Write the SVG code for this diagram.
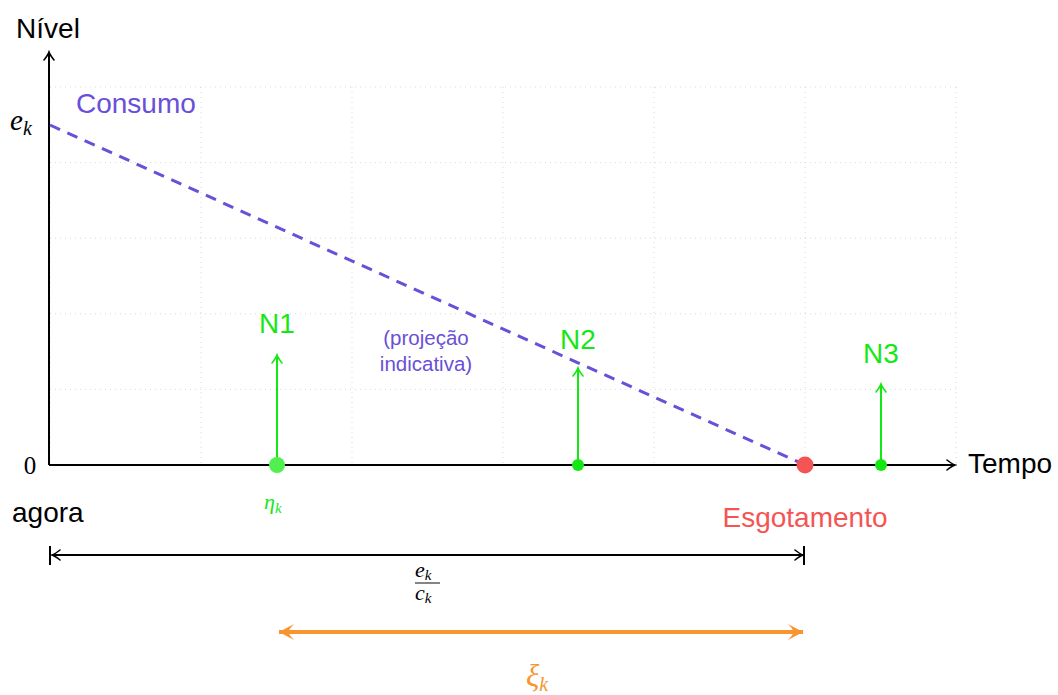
<svg xmlns="http://www.w3.org/2000/svg" width="1058" height="695" viewBox="0 0 1058 695">
<style>
.grid{stroke:#d9d9d9;stroke-width:1;stroke-dasharray:1 4;fill:none}
.axis{stroke:#000;stroke-width:2;fill:none}
.sans{font-family:"Liberation Sans",Arial,sans-serif;font-size:28px}
.serif{font-family:"Liberation Serif","Times New Roman",serif;font-style:italic}
.grn{fill:#14e814}
.gl{stroke:#14e814;stroke-width:2;fill:none}
</style>
<defs>
<marker id="ah" viewBox="-10 -6 12 12" markerWidth="12" markerHeight="12" refX="0" refY="0" orient="auto" markerUnits="userSpaceOnUse">
<path d="M-8,-5 Q-3,-1 0,0 Q-3,1 -8,5" fill="none" stroke="#000" stroke-width="1.6" stroke-linecap="round"/>
</marker>
<marker id="ahg" viewBox="-10 -6 12 12" markerWidth="12" markerHeight="12" refX="0" refY="0" orient="auto" markerUnits="userSpaceOnUse">
<path d="M-8,-5 Q-3,-1 0,0 Q-3,1 -8,5" fill="none" stroke="#14e814" stroke-width="1.6" stroke-linecap="round"/>
</marker>
<marker id="ahd" viewBox="-10 -6 12 12" markerWidth="12" markerHeight="12" refX="0" refY="0" orient="auto-start-reverse" markerUnits="userSpaceOnUse">
<path d="M-8,-5 Q-3,-1 0,0 Q-3,1 -8,5" fill="none" stroke="#000" stroke-width="1.6" stroke-linecap="round"/>
</marker>
<marker id="aho" viewBox="-16 -9 18 18" markerWidth="18" markerHeight="18" refX="0" refY="0" orient="auto-start-reverse" markerUnits="userSpaceOnUse">
<path d="M-15,-8 Q-9,-2 -10,0 Q-9,2 -15,8 L0,0 Z" fill="#f7952f"/>
</marker>
</defs>
<g id="grid">
<path class="grid" d="M50,87H956M50,162.6H956M50,238.2H956M50,313.8H956M50,389.4H956"/>
<path class="grid" d="M201,87V465M352,87V465M503,87V465M654,87V465M805,87V465M956,87V465M50,87V465"/>
</g>
<g id="axes">
<line class="axis" x1="49" y1="465" x2="49" y2="52" marker-end="url(#ah)"/>
<line class="axis" x1="49" y1="465" x2="955" y2="465" marker-end="url(#ah)"/>
<text class="sans" x="48" y="38" text-anchor="middle">Nível</text>
<text class="sans" x="968" y="473">Tempo</text>
<text class="serif" x="10" y="130" font-size="29">e<tspan font-size="20" dy="5">k</tspan></text>
<text x="30" y="474" font-size="25" text-anchor="middle" font-family="Liberation Serif,serif">0</text>
</g>
<g id="connectors">
<line x1="50" y1="125" x2="805" y2="465" stroke="#6a4fd8" stroke-width="3" stroke-dasharray="11 8"/>
<line class="gl" x1="277" y1="465" x2="277" y2="355" marker-end="url(#ahg)"/>
<line class="gl" x1="578" y1="465" x2="578" y2="368" marker-end="url(#ahg)"/>
<line class="gl" x1="881" y1="465" x2="881" y2="384" marker-end="url(#ahg)"/>
<line x1="52" y1="555" x2="803" y2="555" stroke="#000" stroke-width="2" marker-start="url(#ahd)" marker-end="url(#ahd)"/>
<path d="M50,546V565M804,546V565" stroke="#000" stroke-width="2"/>
<line x1="279" y1="632" x2="803" y2="632" stroke="#f7952f" stroke-width="4" marker-start="url(#aho)" marker-end="url(#aho)"/>
</g>
<g id="consumo">
<text class="sans" x="76" y="113" fill="#6a4fd8">Consumo</text>
<text class="sans" x="426" y="345" style="font-size:20.5px" fill="#6a4fd8" text-anchor="middle">(projeção</text>
<text class="sans" x="426" y="371" style="font-size:20.5px" fill="#6a4fd8" text-anchor="middle">indicativa)</text>
</g>
<g id="N1">
<circle cx="277" cy="465" r="8" fill="#4ff04f"/>
<text class="sans grn" x="277" y="333" text-anchor="middle">N1</text>
<text class="serif grn" x="264" y="509" font-size="22">η<tspan font-size="15" dy="4">k</tspan></text>
</g>
<g id="N2">
<circle cx="578" cy="465" r="6" fill="#14e814"/>
<text class="sans grn" x="578" y="349" text-anchor="middle">N2</text>
</g>
<g id="N3">
<circle cx="881" cy="465" r="6" fill="#14e814"/>
<text class="sans grn" x="881" y="363" text-anchor="middle">N3</text>
</g>
<g id="esgotamento">
<circle cx="805" cy="465" r="8.5" fill="#f55454"/>
<text class="sans" x="805" y="527" fill="#f55454" text-anchor="middle">Esgotamento</text>
</g>
<g id="agora">
<text class="sans" x="12" y="522">agora</text>
</g>
<g id="labels">
<text class="serif" x="415" y="577" font-size="22">e<tspan font-size="15" dy="3">k</tspan></text>
<line x1="415" y1="583" x2="440" y2="583" stroke="#333" stroke-width="1.2"/>
<text class="serif" x="415" y="600" font-size="22">c<tspan font-size="15" dy="3">k</tspan></text>
<text class="serif" x="526" y="686" font-size="31" fill="#f7952f">ξ<tspan font-size="20" dy="5">k</tspan></text>
</g>
</svg>
